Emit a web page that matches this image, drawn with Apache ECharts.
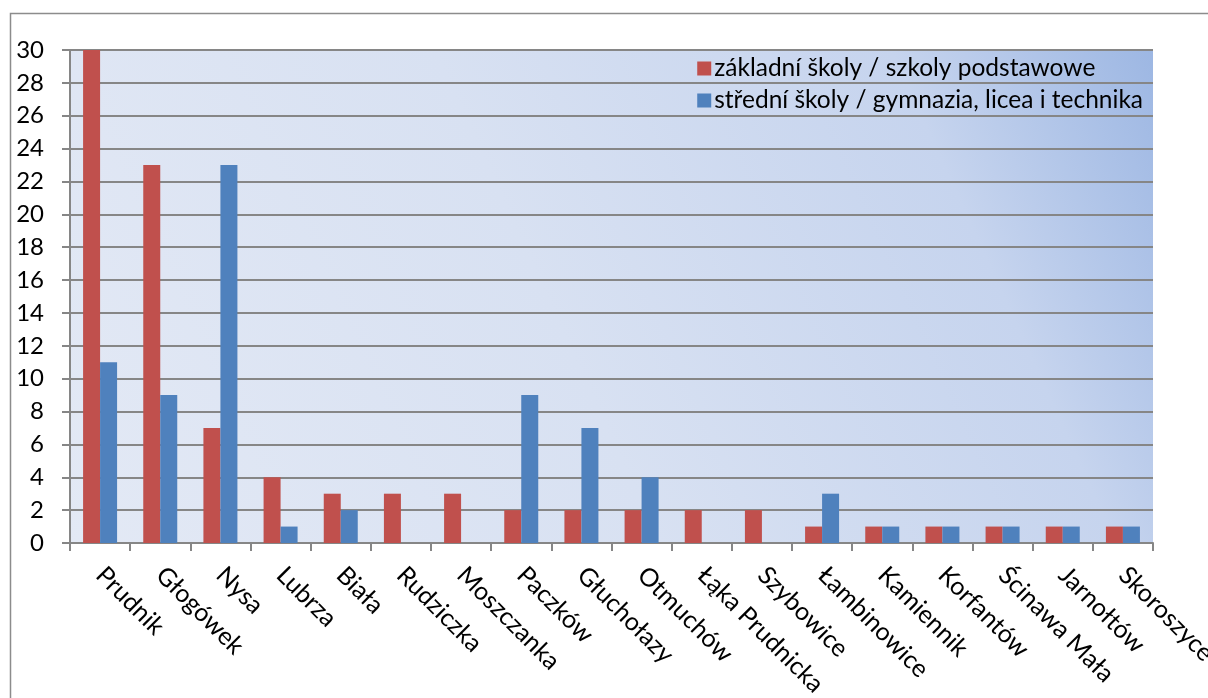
<!DOCTYPE html>
<html>
<head>
<meta charset="utf-8">
<script src="https://cdn.jsdelivr.net/npm/echarts@6/dist/echarts.min.js"></script>
<style>html,body{margin:0;padding:0;background:#fff;}#c{width:1208px;height:698px;}</style>
</head>
<body>
<div id="c"></div>
<script>
var categories = ["Prudnik","Głogówek","Nysa","Lubrza","Biała","Rudziczka","Moszczanka","Paczków","Głuchołazy","Otmuchów","Łąka Prudnicka","Szybowice","Łambinowice","Kamiennik","Korfantów","Ścinawa Mała","Jarnołtów","Skoroszyce"];
var seriesNames = ["základní školy / szkoly podstawowe","střední školy / gymnazia, licea i technika"];
var primaryValues = [30,23,7,4,3,3,3,2,2,2,2,2,1,1,1,1,1,1];
var secondaryValues = [11,9,23,1,2,0,0,9,7,4,0,0,3,1,1,1,1,1];
var yTicks = {min:0, max:30, interval:2};

var chart = echarts.init(document.getElementById('c'), null, {renderer:'canvas'});
var font = 'Lato, "Open Sans", sans-serif';
chart.setOption({
  animation:false,
  graphic:[{type:'rect', shape:{x:10.5,y:13.5,width:1230,height:720}, style:{fill:'none', stroke:'#8c8c8c', lineWidth:1.5}, z:-10}],
  grid:{left:70, right:55, top:50, bottom:155, show:true, borderWidth:0, containLabel:false, outerBoundsMode:'none',
    backgroundColor:{type:'linear', x:0, y:1, x2:1, y2:0, colorStops:[{offset:0,color:'#e3e9f5'},{offset:0.45,color:'#d8e1f2'},{offset:0.8,color:'#c6d4ee'},{offset:1,color:'#9db7e3'}]}},
  legend:{orient:'vertical', right:60, top:51, itemWidth:14, itemHeight:14, itemGap:7,
    textStyle:{fontFamily:font, fontSize:24.5, color:'#000', padding:[0,0,0,-2]},
    data:[{name:seriesNames[0], icon:'rect'},{name:seriesNames[1], icon:'rect'}]},
  xAxis:{type:'category', data:categories,
    axisLine:{lineStyle:{color:'#868686', width:2}},
    axisTick:{show:true, length:8, lineStyle:{color:'#868686', width:2}},
    axisLabel:{rotate:-45, interval:0, fontFamily:font, fontSize:25, color:'#000', margin:28}},
  yAxis:{type:'value', min:yTicks.min, max:yTicks.max, interval:yTicks.interval,
    axisLine:{show:true, lineStyle:{color:'#868686', width:2}},
    axisTick:{show:true, length:8, lineStyle:{color:'#868686', width:2}},
    splitLine:{lineStyle:{color:'#868686', width:2}},
    axisLabel:{fontFamily:font, fontSize:24, color:'#000', margin:26}},
  series:[
    {name:seriesNames[0], type:'bar', data:primaryValues, barWidth:17, barGap:'0%',
      itemStyle:{color:'#c0504d'}},
    {name:seriesNames[1], type:'bar', data:secondaryValues, barWidth:17, barGap:'0%',
      itemStyle:{color:'#4f81bd'}}
  ]
});
</script>
</body>
</html>
